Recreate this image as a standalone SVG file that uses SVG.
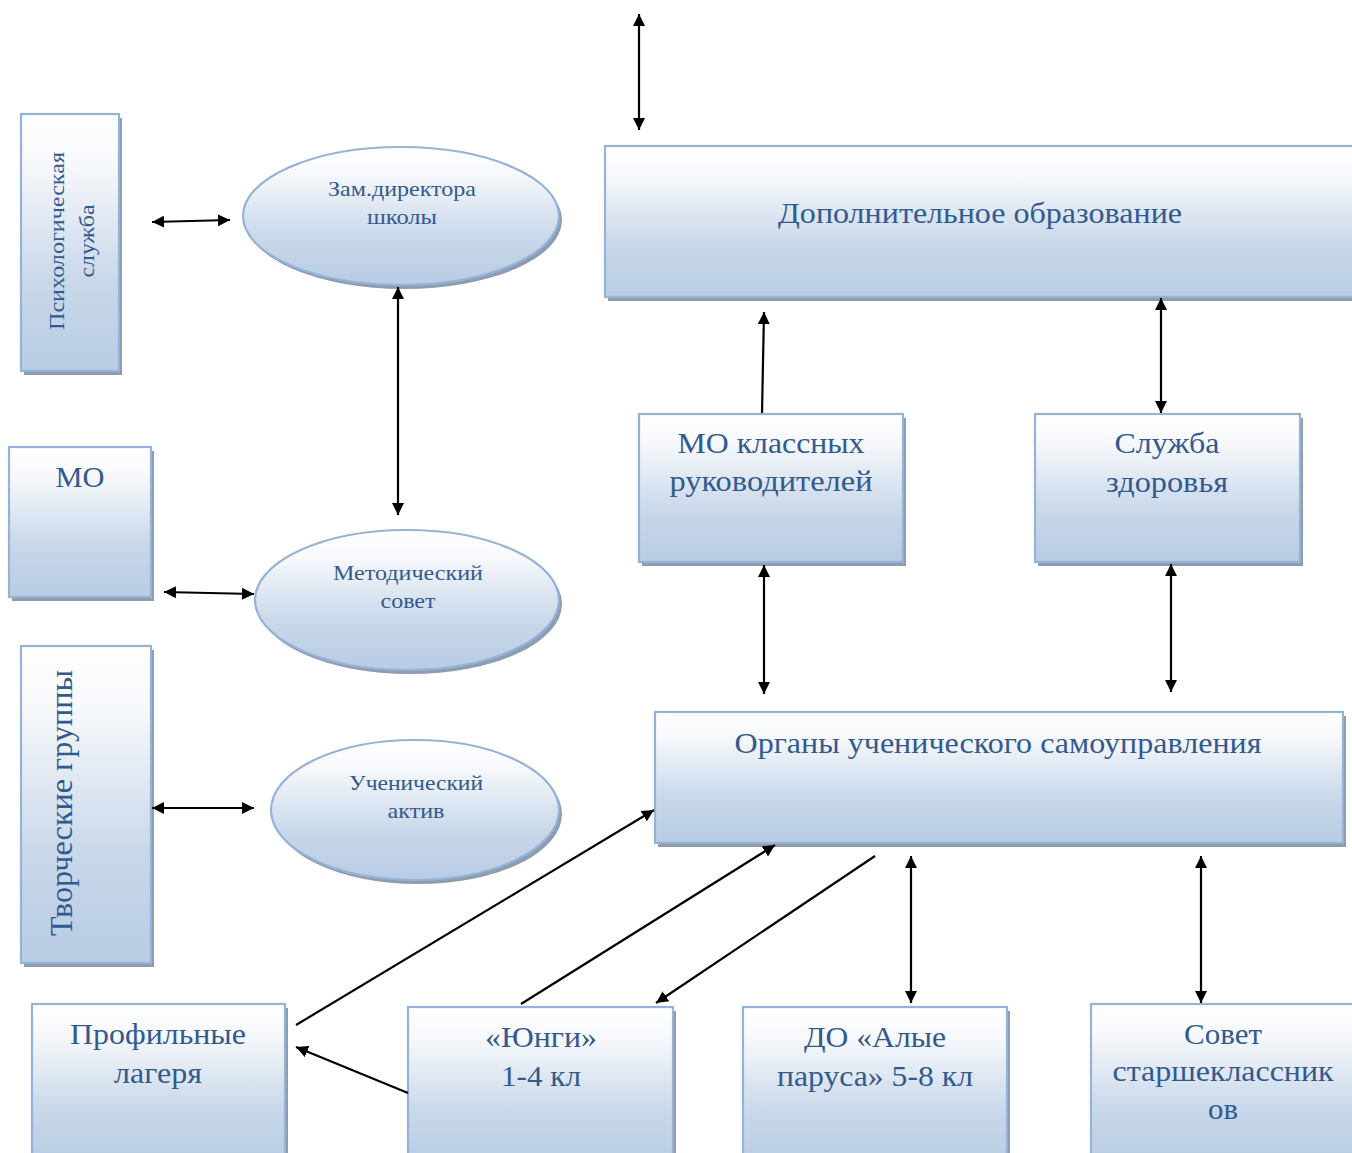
<svg xmlns="http://www.w3.org/2000/svg" width="1352" height="1153" viewBox="0 0 1352 1153">
<defs>
<linearGradient id="g" x1="0" y1="0" x2="0" y2="1">
<stop offset="0" stop-color="#ffffff"/>
<stop offset="0.2" stop-color="#f6f8fb"/>
<stop offset="0.65" stop-color="#c9d8ea"/>
<stop offset="1" stop-color="#b8cce4"/>
</linearGradient>
<marker id="ah" viewBox="0 0 12 12" refX="12" refY="6" markerWidth="12" markerHeight="12" markerUnits="userSpaceOnUse" orient="auto-start-reverse">
<path d="M0,0 L12,6 L0,12 z" fill="#000"/>
</marker>
</defs>
<style>
.box{fill:url(#g);stroke:#95b3d7;stroke-width:2.2}
.sh{fill:#8e9cb0}
.t{font-family:"Liberation Serif","Times New Roman",serif;fill:#335a8e;text-anchor:middle}
.s20{font-size:21px}
.s28{font-size:30px}
.c{stroke:#000;stroke-width:2.2;fill:none}
.d{marker-start:url(#ah);marker-end:url(#ah)}
.e{marker-end:url(#ah)}
</style>
<rect width="1352" height="1153" fill="#fff"/>

<g id="psych">
<rect class="sh" x="24" y="118" width="98" height="257"/>
<rect class="box" x="21" y="114" width="98" height="257"/>
<text class="t s20" transform="translate(64,241) rotate(-90)" textLength="178" lengthAdjust="spacingAndGlyphs">Психологическая</text>
<text class="t s20" transform="translate(94,241) rotate(-90)" textLength="73" lengthAdjust="spacingAndGlyphs">служба</text>
</g>

<g id="zam">
<ellipse class="sh" cx="404" cy="220" rx="158" ry="69"/>
<ellipse class="box" cx="401" cy="216" rx="158" ry="69"/>
<text class="t s20" x="402" y="196" textLength="148" lengthAdjust="spacingAndGlyphs">Зам.директора</text>
<text class="t s20" x="402" y="224" textLength="70" lengthAdjust="spacingAndGlyphs">школы</text>
</g>

<g id="mo">
<rect class="sh" x="12" y="451" width="142" height="150"/>
<rect class="box" x="9" y="447" width="142" height="150"/>
<text class="t s28" x="80" y="487" textLength="49" lengthAdjust="spacingAndGlyphs">МО</text>
</g>

<g id="metod">
<ellipse class="sh" cx="410" cy="604" rx="152" ry="70"/>
<ellipse class="box" cx="407" cy="600" rx="152" ry="70"/>
<text class="t s20" x="408" y="580" textLength="150" lengthAdjust="spacingAndGlyphs">Методический</text>
<text class="t s20" x="408" y="608" textLength="55" lengthAdjust="spacingAndGlyphs">совет</text>
</g>

<g id="tvorch">
<rect class="sh" x="24" y="650" width="130" height="317"/>
<rect class="box" x="21" y="646" width="130" height="317"/>
<text class="t" style="font-size:31px" transform="translate(72,803) rotate(-90)" textLength="266" lengthAdjust="spacingAndGlyphs">Творческие группы</text>
</g>

<g id="uchak">
<ellipse class="sh" cx="418" cy="814" rx="144" ry="70"/>
<ellipse class="box" cx="415" cy="810" rx="144" ry="70"/>
<text class="t s20" x="416" y="790" textLength="134" lengthAdjust="spacingAndGlyphs">Ученический</text>
<text class="t s20" x="416" y="818" textLength="57" lengthAdjust="spacingAndGlyphs">актив</text>
</g>

<g id="dop">
<rect class="sh" x="608" y="150" width="760" height="151"/>
<rect class="box" x="605" y="146" width="760" height="151"/>
<text class="t s28" x="980" y="223" textLength="404" lengthAdjust="spacingAndGlyphs">Дополнительное образование</text>
</g>

<g id="mokl">
<rect class="sh" x="642" y="418" width="264" height="148"/>
<rect class="box" x="639" y="414" width="264" height="148"/>
<text class="t s28" x="771" y="453" textLength="187" lengthAdjust="spacingAndGlyphs">МО классных</text>
<text class="t s28" x="771" y="491" textLength="203" lengthAdjust="spacingAndGlyphs">руководителей</text>
</g>

<g id="zdor">
<rect class="sh" x="1038" y="418" width="265" height="148"/>
<rect class="box" x="1035" y="414" width="265" height="148"/>
<text class="t s28" x="1167" y="453" textLength="105" lengthAdjust="spacingAndGlyphs">Служба</text>
<text class="t s28" x="1167" y="492" textLength="122" lengthAdjust="spacingAndGlyphs">здоровья</text>
</g>

<g id="organy">
<rect class="sh" x="658" y="716" width="688" height="131"/>
<rect class="box" x="655" y="712" width="688" height="131"/>
<text class="t s28" x="998" y="753" textLength="527" lengthAdjust="spacingAndGlyphs">Органы ученического самоуправления</text>
</g>

<g id="lager">
<rect class="sh" x="35" y="1008" width="253" height="160"/>
<rect class="box" x="32" y="1004" width="253" height="160"/>
<text class="t s28" x="158" y="1044" textLength="176" lengthAdjust="spacingAndGlyphs">Профильные</text>
<text class="t s28" x="158" y="1083" textLength="88" lengthAdjust="spacingAndGlyphs">лагеря</text>
</g>

<g id="yungi">
<rect class="sh" x="411" y="1011" width="265" height="160"/>
<rect class="box" x="408" y="1007" width="265" height="160"/>
<text class="t s28" x="541" y="1047" textLength="112" lengthAdjust="spacingAndGlyphs">«Юнги»</text>
<text class="t s28" x="541" y="1086" textLength="80" lengthAdjust="spacingAndGlyphs">1-4 кл</text>
</g>

<g id="alye">
<rect class="sh" x="746" y="1011" width="264" height="160"/>
<rect class="box" x="743" y="1007" width="264" height="160"/>
<text class="t s28" x="875" y="1047" textLength="142" lengthAdjust="spacingAndGlyphs">ДО «Алые</text>
<text class="t s28" x="875" y="1086" textLength="196" lengthAdjust="spacingAndGlyphs">паруса» 5-8 кл</text>
</g>

<g id="sovet">
<rect class="sh" x="1094" y="1008" width="270" height="160"/>
<rect class="box" x="1091" y="1004" width="270" height="160"/>
<text class="t s28" x="1223" y="1044" textLength="78" lengthAdjust="spacingAndGlyphs">Совет</text>
<text class="t s28" x="1223" y="1081" textLength="221" lengthAdjust="spacingAndGlyphs">старшеклассник</text>
<text class="t s28" x="1223" y="1119" textLength="30" lengthAdjust="spacingAndGlyphs">ов</text>
</g>

<g id="connectors">
<line class="c d" x1="639" y1="14" x2="639" y2="130"/>
<line class="c d" x1="152" y1="222" x2="230" y2="220"/>
<line class="c d" x1="398" y1="287" x2="398" y2="515"/>
<line class="c e" x1="762" y1="413" x2="764" y2="312"/>
<line class="c d" x1="1161" y1="298" x2="1161" y2="413"/>
<line class="c d" x1="164" y1="592" x2="254" y2="594"/>
<line class="c d" x1="152" y1="808" x2="254" y2="808"/>
<line class="c d" x1="764" y1="565" x2="764" y2="694"/>
<line class="c d" x1="1171" y1="564" x2="1171" y2="692"/>
<line class="c e" x1="296" y1="1025" x2="654" y2="810"/>
<line class="c e" x1="408" y1="1093" x2="296" y2="1047"/>
<line class="c e" x1="521" y1="1004" x2="775" y2="845"/>
<line class="c e" x1="875" y1="856" x2="656" y2="1003"/>
<line class="c d" x1="911" y1="856" x2="911" y2="1003"/>
<line class="c d" x1="1201" y1="856" x2="1201" y2="1003"/>
</g>
</svg>
